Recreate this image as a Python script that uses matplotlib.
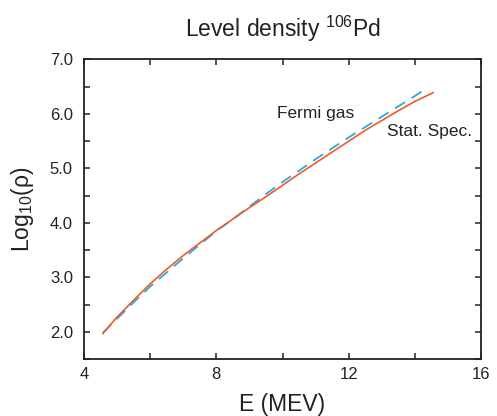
import numpy as np
import matplotlib
matplotlib.use("Agg")
import matplotlib.pyplot as plt
from matplotlib.ticker import MultipleLocator

plt.rcParams["font.family"] = ["Liberation Sans", "DejaVu Sans"]
plt.rcParams["mathtext.fontset"] = "custom"
plt.rcParams["mathtext.rm"] = "Liberation Sans"
plt.rcParams["mathtext.it"] = "Liberation Sans"
plt.rcParams["lines.scale_dashes"] = False

# statistical spectroscopy curve
e_stat = [4.57, 5.0, 5.5, 6.0, 6.5, 7.0, 7.5, 8.0, 8.5, 9.0, 9.5, 10.0,
          10.5, 11.0, 11.5, 12.0, 12.5, 13.0, 13.5, 14.0, 14.55]
log_stat = [1.97, 2.27, 2.58, 2.88, 3.15, 3.40, 3.63, 3.86, 4.07, 4.28, 4.48, 4.69,
            4.90, 5.10, 5.30, 5.50, 5.70, 5.88, 6.06, 6.23, 6.39]

# fermi gas curve
e_fermi = [4.57, 5.0, 5.5, 6.0, 6.5, 7.0, 7.5, 8.0, 8.5, 9.0, 9.5, 10.0,
           10.5, 11.0, 11.5, 12.0, 12.5, 13.0, 13.5, 14.0, 14.3]
log_fermi = [1.98, 2.24, 2.54, 2.83, 3.09, 3.35, 3.60, 3.85, 4.07, 4.30, 4.53, 4.75,
             4.96, 5.17, 5.37, 5.57, 5.76, 5.95, 6.14, 6.33, 6.45]

xticks = [4, 8, 12, 16]
yticks = [2.0, 3.0, 4.0, 5.0, 6.0, 7.0]

fig = plt.figure(figsize=(4.97, 4.16), dpi=100)
ax = fig.add_axes([0.169, 0.137, 0.799, 0.72])

ax.plot(e_fermi, log_fermi, color="#29abe2", lw=1.3, dashes=(8.5, 5.5))
ax.plot(e_stat, log_stat, color="#f05a28", lw=1.2)

ax.text(11.0, 6.0, "Fermi gas", fontsize=12.5, ha="center", va="center", color="#222222")
ax.text(13.15, 5.67, "Stat. Spec.", fontsize=12.5, ha="left", va="center", color="#222222")

ax.set_xlim(4, 16)
ax.set_ylim(1.5, 7.0)
ax.set_xticks(xticks)
ax.set_yticks(yticks)
ax.set_yticklabels([f"{v:.1f}" for v in yticks])
ax.xaxis.set_minor_locator(MultipleLocator(2))
ax.yaxis.set_minor_locator(MultipleLocator(0.5))
ax.tick_params(which="both", direction="in", top=True, right=True, length=4, width=1.1, color="#222222")
ax.tick_params(axis="x", labelsize=12, pad=6, labelcolor="#222222")
ax.tick_params(axis="y", labelsize=12, pad=8, labelcolor="#222222")
for s in ax.spines.values():
    s.set_linewidth(1.3)
    s.set_color("#222222")

ax.set_xlabel("E (MEV)", fontsize=16.5, labelpad=8, color="#222222")
ax.set_ylabel(r"Log$_{10}$(ρ)", fontsize=16.5, labelpad=10, color="#222222")
ax.set_title(r"Level density $^{106}$Pd", fontsize=16.5, pad=16, color="#222222")

fig.savefig("out.png", dpi=100)
